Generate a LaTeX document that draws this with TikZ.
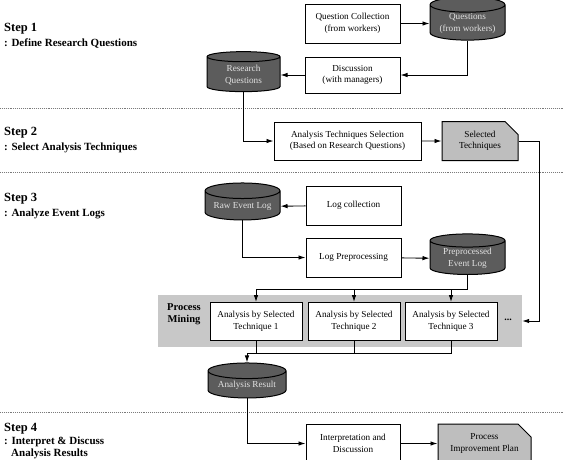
\documentclass[tikz,border=0pt]{standalone}
\usepackage{fontspec}
\setmainfont{Liberation Serif}
\usetikzlibrary{arrows.meta,positioning,shapes.geometric,shapes.misc}
\definecolor{dbCol}{HTML}{5C5C5C}
\definecolor{dbText}{HTML}{E2E2E2}
\definecolor{docCol}{HTML}{BEBEBE}
\definecolor{pmCol}{HTML}{C8C8C8}
\definecolor{sepCol}{HTML}{7A7A7A}

\begin{document}
\begin{tikzpicture}[x=1pt,y=-1pt,>=Latex,
  box/.style={draw,line width=1pt,fill=white,minimum width=#1,minimum height=39pt,
    align=center,inner sep=1pt,font=\fontsize{9.2}{11.5}\selectfont},
  box/.default=95pt,
  db/.style={cylinder,shape border rotate=90,aspect=0.26,draw,line width=1pt,
    fill=dbCol,text=dbText,minimum width=#1,minimum height=38pt,
    align=center,inner sep=1pt,font=\fontsize{9.2}{11.5}\selectfont},
  db/.default=75pt,
  doc/.style={chamfered rectangle,chamfered rectangle corners=north east,
    chamfered rectangle xsep=8pt,chamfered rectangle ysep=5pt,
    draw,line width=1pt,fill=docCol,minimum width=#1,minimum height=39pt,
    align=center,inner sep=1pt,font=\fontsize{9.2}{11.5}\selectfont},
  doc/.default=76pt,
  flow/.style={-{Latex[length=7pt,width=4.5pt]},line width=0.9pt},
  sep/.style={sepCol,densely dotted,line width=0.9pt},
  steptitle/.style={anchor=base west,inner sep=0pt,font=\fontsize{12.5}{14}\selectfont\bfseries},
  stepdesc/.style={anchor=base west,inner sep=0pt,font=\fontsize{11}{13}\selectfont\bfseries},
]
\useasboundingbox (0,0) rectangle (563,459);
\clip (0,0) rectangle (563,459);

% step labels
\node[steptitle] (s1) at (4,31) {Step 1};
\node[stepdesc] (s1d) at (4,46) {: Define Research Questions};
\node[steptitle] (s2) at (4,135) {Step 2};
\node[stepdesc] (s2d) at (4,150) {: Select Analysis Techniques};
\node[steptitle] (s3) at (4,201) {Step 3};
\node[stepdesc] (s3d) at (4,216) {: Analyze Event Logs};
\node[steptitle] (s4) at (4,431) {Step 4};
\node[stepdesc] (s4d) at (4,444) {: Interpret \& Discuss};
\node[stepdesc] (s4e) at (11,456) {Analysis Results};

% separators
\draw[sep] (0,108) -- (563,108);
\draw[sep] (0,172) -- (563,172);
\draw[sep] (0,412) -- (563,412);

% step 1
\node[box] (qcoll) at (352.5,23.5) {Question Collection\\(from workers)};
\node[db,minimum height=43pt] (qdb) at (467.5,23.5) {Questions\\(from workers)};
\node[box,minimum height=36pt] (disc) at (352.5,75) {Discussion\\(with managers)};
\node[db=73pt,minimum height=40pt] (rq) at (243.5,75) {Research\\Questions};

\draw[flow] (qcoll) -- (qdb);
\draw[flow] (qdb.south) |- (disc.east);
\draw[flow] (disc) -- (rq);

% step 2
\node[box=147pt,minimum height=38pt] (ats) at (347.5,141) {Analysis Techniques Selection\\(Based on Research Questions)};
\node[doc] (seltech) at (480,141) {Selected\\Techniques};

\draw[flow] (rq.south) |- (ats.west);
\draw[flow] (ats) -- (seltech);

% step 3
\node[box] (logcoll) at (353.5,205.5) {Log collection};
\node[db,minimum height=37pt] (raw) at (242.5,206.5) {Raw Event Log};
\node[box] (logpre) at (353.5,257.5) {Log Preprocessing};
\node[db,minimum height=39pt] (pel) at (467.5,258.5) {Preprocessed\\Event Log};

\draw[flow] (logcoll) -- (raw);
\draw[flow] (raw.south) |- (logpre.west);
\draw[flow] (logpre) -- (pel);

\node[fill=pmCol,minimum width=364pt,minimum height=52pt] (pmbg) at (340,321) {};
\node[align=center,inner sep=0pt,font=\fontsize{10.5}{11.5}\selectfont\bfseries] (pmlbl) at (184,314) {Process\\Mining};
\node[box=92pt,minimum height=38pt] (t1) at (256,321.5) {Analysis by Selected\\Technique 1};
\node[box=92pt,minimum height=38pt] (t2) at (354,321.5) {Analysis by Selected\\Technique 2};
\node[box=92pt,minimum height=38pt] (t3) at (451,321.5) {Analysis by Selected\\Technique 3};
\node[font=\bfseries] (more) at (508,320) {...};

\draw[flow] (pel.south) |- ([yshift=13pt]t1.north) -- (t1.north);
\draw[flow] ([yshift=13pt]t2.north) -- (t2.north);
\draw[flow] ([yshift=13pt]t3.north) -- (t3.north);
\draw[flow] (seltech.east) -- ++(21,0) |- (pmbg.east);

\node[db=78pt,minimum height=35pt] (ar) at (247,385.5) {Analysis Result};

\draw[flow] (t3.south) -- ++(0,12) -| (ar.north);
\draw (t1.south) -- ++(0,12);
\draw (t2.south) -- ++(0,12);

% step 4
\node[box=94pt] (interp) at (353,443.5) {Interpretation and\\Discussion};
\node[doc=93pt] (pip) at (484.5,443.5) {Process\\Improvement Plan};

\draw[flow] (ar.south) |- (interp.west);
\draw[flow] (interp) -- (pip);

\end{tikzpicture}
\end{document}
